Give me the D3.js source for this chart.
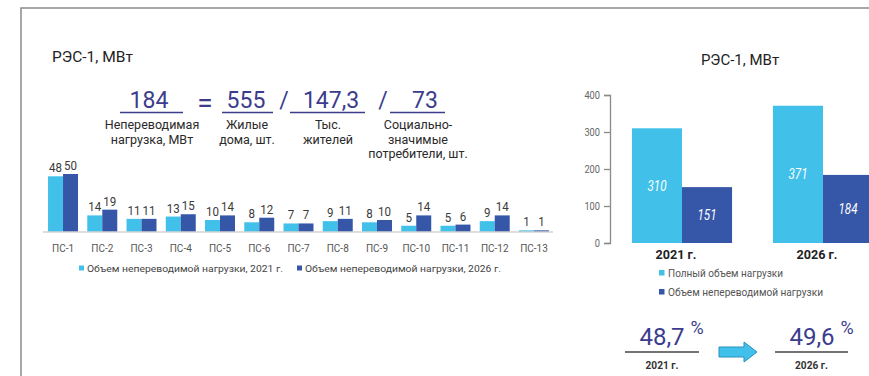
<!DOCTYPE html>
<html><head><meta charset="utf-8">
<script src="https://cdn.jsdelivr.net/npm/d3@7"></script>
<style>
html,body{margin:0;padding:0;background:#fff;}
svg{display:block;}
text{font-family:Roboto,"Noto Sans",sans-serif;}
</style></head><body>
<svg id="c" width="869" height="376"></svg>
<script>
// ---- data ----
const categories = ["ПС-1","ПС-2","ПС-3","ПС-4","ПС-5","ПС-6","ПС-7","ПС-8","ПС-9","ПС-10","ПС-11","ПС-12","ПС-13"];
const load2021 = [48,14,11,13,10,8,7,9,8,5,5,9,1];
const load2026 = [50,19,11,15,14,12,7,11,10,14,6,14,1];
const seriesNames = ["Объем непереводимой нагрузки, 2021 г.","Объем непереводимой нагрузки, 2026 г."];

const years = ["2021 г.","2026 г."];
const fullLoad = [310,371];
const nonTransLoad = [151,184];
const rightSeriesNames = ["Полный объем нагрузки","Объем непереводимой нагрузки"];
const rightTicks = [0,100,200,300,400];

const formulaValues = ["184","555","147,3","73"];
const formulaLabels = [["Непереводимая","нагрузка, МВт"],["Жилые","дома, шт."],["Тыс.","жителей"],["Социально-","значимые","потребители, шт."]];
const shares = ["48,7","49,6"];

const title = "РЭС-1, МВт";
const cLight = "#41c1ea", cDark = "#3656a8", cNum = "#3b3c8c";

const svg = d3.select("#c");

// frame
svg.append("path").attr("d","M21,376 V8 H869").attr("fill","none").attr("stroke","#8a8a8a").attr("stroke-width",1.5);

// ---- left title ----
svg.append("text").attr("x",52).attr("y",62).attr("font-size",15.5).attr("fill","#222").text(title);

// ---- formula ----
const fCenters = [152,247,328,418];
const fUnder = [[120,183],[222,273],[290,365],[390,445]];
const fNumX = [149,246,331,425];
formulaValues.forEach((v,i)=>{
  svg.append("text").attr("x",fNumX[i]).attr("y",108).attr("text-anchor","middle")
    .attr("font-size",23).attr("fill",cNum).text(v);
  svg.append("line").attr("x1",fUnder[i][0]).attr("x2",fUnder[i][1]).attr("y1",112.5).attr("y2",112.5)
    .attr("stroke",cNum).attr("stroke-width",1.5);
  formulaLabels[i].forEach((t,j)=>{
    svg.append("text").attr("x",fCenters[i]).attr("y",129+j*14.5).attr("text-anchor","middle")
      .attr("font-size",12.5).attr("fill","#2a2a2a").text(t);
  });
});
svg.append("text").attr("x",205).attr("y",112).attr("text-anchor","middle").attr("font-size",28).attr("fill",cNum).text("=");
svg.append("text").attr("x",284).attr("y",108).attr("text-anchor","middle").attr("font-size",23).attr("fill",cNum).text("/");
svg.append("text").attr("x",383).attr("y",108).attr("text-anchor","middle").attr("font-size",23).attr("fill",cNum).text("/");

// ---- left bar chart ----
const x0 = d3.scaleBand().domain(categories).range([43.4,553.6]).paddingInner(0.236).paddingOuter(0.118);
const x1 = d3.scaleBand().domain([0,1]).range([0,x0.bandwidth()]);
const y = d3.scaleLinear().domain([0,50]).range([231.5,174]);
const lg = svg.append("g");
categories.forEach((c,i)=>{
  [load2021[i],load2026[i]].forEach((v,k)=>{
    const bx = x0(c)+x1(k);
    lg.append("rect").attr("x",bx).attr("y",y(v)).attr("width",x1.bandwidth()).attr("height",y(0)-y(v))
      .attr("fill",k===0?cLight:cDark);
    lg.append("text").attr("x",bx+x1.bandwidth()/2).attr("y",y(v)-4).attr("text-anchor","middle")
      .attr("font-size",13).attr("font-family","'Open Sans',sans-serif").attr("fill","#3a3a3a")
      .attr("textLength",v>=10?13:6.5).attr("lengthAdjust","spacingAndGlyphs").text(v);
  });
  lg.append("text").attr("x",x0(c)+x0.bandwidth()/2).attr("y",252).attr("text-anchor","middle")
    .attr("font-size",10).attr("font-family","'Open Sans',sans-serif").attr("fill","#555").text(c);
});
lg.append("line").attr("x1",43).attr("x2",553).attr("y1",y(0)+0.5).attr("y2",y(0)+0.5).attr("stroke","#bdbdbd").attr("stroke-width",1.2);

// left legend
const legX = [79,297];
seriesNames.forEach((n,k)=>{
  lg.append("rect").attr("x",legX[k]).attr("y",265.5).attr("width",5).attr("height",5).attr("fill",k===0?cLight:cDark);
  lg.append("text").attr("x",legX[k]+8).attr("y",271.5).attr("font-size",9).attr("font-family","'Open Sans',sans-serif")
    .attr("fill","#444").attr("textLength",196).attr("lengthAdjust","spacingAndGlyphs").text(n);
});

// ---- right chart ----
svg.append("text").attr("x",740).attr("y",65).attr("text-anchor","middle").attr("font-size",15).attr("fill","#222").text(title);
const rx0 = d3.scaleBand().domain(years).range([611.5,893.5]).paddingInner(0.29).paddingOuter(0.145);
const rx1 = d3.scaleBand().domain([0,1]).range([0,rx0.bandwidth()]);
const ry = d3.scaleLinear().domain([0,400]).range([243,95]);
const rg = svg.append("g");
const ax = rg.append("g").attr("transform","translate(610,0)").call(d3.axisLeft(ry).tickValues(rightTicks).tickSize(6).tickPadding(4));
ax.selectAll("path,line").attr("stroke","#8a8a8a").attr("stroke-width",1.3);
ax.selectAll("text").attr("font-size",11).attr("fill","#666").attr("font-family","Roboto,sans-serif")
  .attr("textLength",function(){return this.textContent.length*5.2;}).attr("lengthAdjust","spacingAndGlyphs");
years.forEach((yr,i)=>{
  [fullLoad[i],nonTransLoad[i]].forEach((v,k)=>{
    const bx = rx0(yr)+rx1(k);
    rg.append("rect").attr("x",bx).attr("y",ry(v)).attr("width",rx1.bandwidth()).attr("height",ry(0)-ry(v))
      .attr("fill",k===0?cLight:cDark);
    rg.append("text").attr("x",bx+rx1.bandwidth()/2).attr("y",(ry(v)+ry(0))/2+5).attr("text-anchor","middle")
      .attr("font-size",14).attr("font-style","italic").attr("fill","#fff")
      .attr("textLength",19).attr("lengthAdjust","spacingAndGlyphs").text(v);
  });
  rg.append("text").attr("x",rx0(yr)+rx0.bandwidth()/2-6).attr("y",259).attr("text-anchor","middle")
    .attr("font-size",12).attr("font-weight","bold").attr("fill","#222")
    .attr("textLength",41).attr("lengthAdjust","spacingAndGlyphs").text(yr);
});
// right legend
rightSeriesNames.forEach((n,k)=>{
  rg.append("rect").attr("x",659).attr("y",270+k*19).attr("width",5.5).attr("height",5.5).attr("fill",k===0?cLight:cDark);
  rg.append("text").attr("x",668).attr("y",277+k*19).attr("font-size",11).attr("fill","#555")
    .attr("textLength",k===0?115:155).attr("lengthAdjust","spacingAndGlyphs").text(n);
});

// ---- shares ----
const shareC = [662,812];
const shareUnder = [[625,699],[775,848]];
shares.forEach((s,i)=>{
  rg.append("text").attr("x",shareC[i]).attr("y",344.5).attr("text-anchor","middle").attr("font-size",24).attr("fill",cNum).text(s);
  rg.append("text").attr("x",shareC[i]+35).attr("y",334).attr("text-anchor","middle").attr("font-size",18).attr("fill",cNum).text("%");
  rg.append("line").attr("x1",shareUnder[i][0]).attr("x2",shareUnder[i][1]).attr("y1",352).attr("y2",352).attr("stroke","#444").attr("stroke-width",1.3);
  rg.append("text").attr("x",(shareUnder[i][0]+shareUnder[i][1])/2).attr("y",369).attr("text-anchor","middle")
    .attr("font-size",11).attr("font-weight","bold").attr("fill","#333")
    .attr("textLength",33).attr("lengthAdjust","spacingAndGlyphs").text(years[i]);
});
// arrow
rg.append("path").attr("d","M719,347 H744 V342 L757,352 L744,362 V357 H719 Z")
  .attr("fill",cLight).attr("stroke","#2a8fc0").attr("stroke-width",1);
</script>
</body></html>
